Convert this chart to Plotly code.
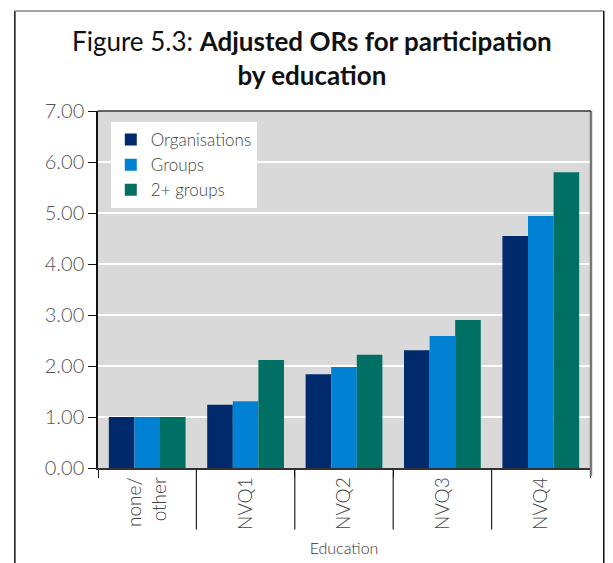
import plotly.graph_objects as go

categories = ["none/<br>other", "NVQ1", "NVQ2", "NVQ3", "NVQ4"]
organisations = [1.00, 1.24, 1.84, 2.31, 4.55]
groups = [1.00, 1.31, 1.98, 2.59, 4.94]
two_plus_groups = [1.00, 2.12, 2.22, 2.90, 5.80]
y_ticks = [0, 1, 2, 3, 4, 5, 6, 7]

series = [
    ("Organisations", organisations, "#002A6C"),
    ("Groups", groups, "#0081D4"),
    ("2+ groups", two_plus_groups, "#007064"),
]

FONT = "Lato"

fig = go.Figure()
for name, values, color in series:
    fig.add_trace(go.Bar(x=categories, y=values, name=name, marker_color=color,
                         marker_line_width=0))

# frame around the whole figure (no bottom edge)
fig.add_shape(type="line", xref="paper", yref="paper", x0=-0.169, x1=-0.169,
              y0=1.28, y1=-0.30, line=dict(color="#111", width=1.5))
fig.add_shape(type="line", xref="paper", yref="paper", x0=-0.169, x1=1.028,
              y0=1.28, y1=1.28, line=dict(color="#888", width=1.5))
fig.add_shape(type="line", xref="paper", yref="paper", x0=1.028, x1=1.028,
              y0=1.28, y1=-0.30, line=dict(color="#111", width=1.5))

# plot area right edge
fig.add_shape(type="line", xref="paper", yref="paper", x0=1.002, x1=1.002,
              y0=1.0, y1=-0.022, line=dict(color="#777", width=2.5))

# long category dividers below the axis
for i in range(1, len(categories)):
    fig.add_shape(type="line", xref="x", yref="paper", x0=i - 0.5, x1=i - 0.5,
                  y0=0, y1=-0.172, line=dict(color="#222", width=1.2))

# title
fig.add_annotation(text="Figure 5.3: <b>Adjusted ORs for participation</b><br><b>by education</b>",
                   xref="paper", yref="paper", x=0.434, y=(460 - 50) / 357,
                   xanchor="center", yanchor="middle", showarrow=False,
                   font=dict(family=FONT, size=26, color="#111"))

fig.update_layout(
    width=613,
    height=563,
    margin=dict(l=90, r=31, t=103, b=103, autoexpand=False),
    paper_bgcolor="white",
    plot_bgcolor="#D9D9D9",
    barmode="group",
    bargap=0.22,
    bargroupgap=0,
    font=dict(family=FONT, color="#444"),
    legend=dict(
        x=0.026, y=0.969, xanchor="left", yanchor="top",
        bgcolor="white", borderwidth=0,
        font=dict(family=FONT, size=17, color="#444", weight=300),
        tracegroupgap=0,
        itemwidth=30,
    ),
    showlegend=True,
)

fig.update_yaxes(
    range=[0, 7],
    tickvals=y_ticks,
    tickformat=".2f",
    ticks="outside", ticklen=8, tickcolor="#111", tickwidth=1.2,
    showline=True, linecolor="#111", linewidth=1.5,
    showgrid=True, gridcolor="white", gridwidth=1.5,
    zeroline=False,
    tickfont=dict(family=FONT, size=20, color="#555", weight=300),
)

fig.update_xaxes(
    tickangle=-90,
    ticks="outside", tickson="boundaries", ticklen=8, tickcolor="#111",
    showline=True, linecolor="#333", linewidth=1.5,
    mirror=False,
    tickfont=dict(family=FONT, size=19, color="#444", weight=300),
    title=dict(text="Education", font=dict(family=FONT, size=16, color="#333", weight=300),
               standoff=14),
)

# top edge of the plot area
fig.add_shape(type="line", xref="paper", yref="paper", x0=0, x1=1.002,
              y0=1.0, y1=1.0, line=dict(color="#333", width=1.5))

fig.write_html("out.html")
